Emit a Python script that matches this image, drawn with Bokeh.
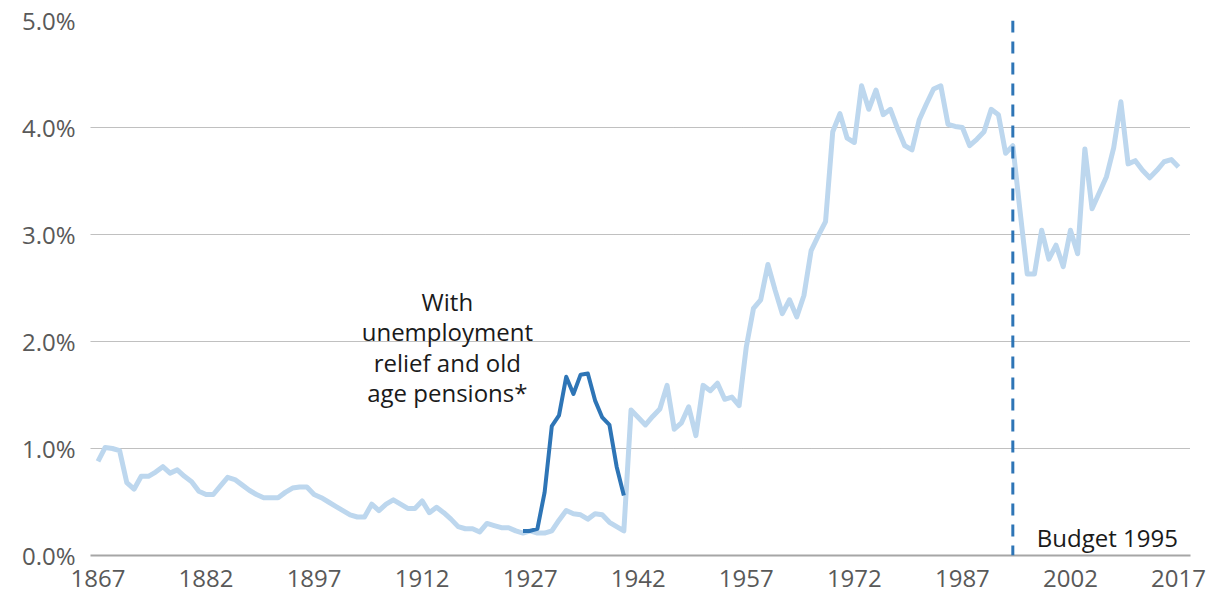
from bokeh.plotting import figure
from bokeh.models import Range1d, FixedTicker, PrintfTickFormatter, Label, Span
from bokeh.embed import file_html
from bokeh.resources import INLINE

# ---------------- data ----------------
years = list(range(1867, 2018))
spending = [
    0.88, 1.01, 1.00, 0.98, 0.68, 0.62, 0.74, 0.74, 0.78, 0.83,   # 1867-1876
    0.77, 0.80, 0.74, 0.69, 0.60, 0.57, 0.57, 0.65, 0.73, 0.71,   # 1877-1886
    0.66, 0.61, 0.57, 0.54, 0.54, 0.54, 0.59, 0.63, 0.64, 0.64,   # 1887-1896
    0.57, 0.54, 0.50, 0.46, 0.42, 0.38, 0.36, 0.36, 0.48, 0.42,   # 1897-1906
    0.48, 0.52, 0.48, 0.44, 0.44, 0.51, 0.40, 0.45, 0.40, 0.34,   # 1907-1916
    0.27, 0.25, 0.25, 0.22, 0.30, 0.28, 0.26, 0.26, 0.23, 0.21,   # 1917-1926
    0.23, 0.21, 0.21, 0.23, 0.33, 0.42, 0.39, 0.38, 0.34, 0.39,   # 1927-1936
    0.38, 0.31, 0.27, 0.23, 1.36, 1.29, 1.22, 1.30, 1.37, 1.59,   # 1937-1946
    1.18, 1.24, 1.39, 1.12, 1.59, 1.54, 1.61, 1.46, 1.48, 1.40,   # 1947-1956
    1.95, 2.31, 2.39, 2.72, 2.48, 2.26, 2.39, 2.23, 2.43, 2.85,   # 1957-1966
    2.99, 3.12, 3.96, 4.13, 3.90, 3.86, 4.39, 4.17, 4.35, 4.12,   # 1967-1976
    4.17, 3.99, 3.83, 3.79, 4.07, 4.22, 4.36, 4.39, 4.03, 4.01,   # 1977-1986
    4.00, 3.83, 3.89, 3.96, 4.17, 4.12, 3.76, 3.83, 3.22, 2.63,   # 1987-1996
    2.63, 3.04, 2.77, 2.90, 2.70, 3.04, 2.82, 3.80, 3.24, 3.39,   # 1997-2006
    3.54, 3.81, 4.24, 3.66, 3.69, 3.60, 3.53, 3.60, 3.68, 3.70,   # 2007-2016
    3.63,                                                         # 2017
]
relief_years = list(range(1926, 1941))
relief_spending = [0.23, 0.23, 0.25, 0.59, 1.21, 1.31, 1.67, 1.51,
                   1.69, 1.70, 1.45, 1.29, 1.22, 0.83, 0.56]
x_ticks = [1867, 1882, 1897, 1912, 1927, 1942, 1957, 1972, 1987, 2002, 2017]
y_ticks = [0, 1, 2, 3, 4, 5]
budget_year = 1994
budget_label = "Budget 1995"
note_text = "With\nunemployment\nrelief and old\nage pensions*"

# ---------------- styling ----------------
FONT = "Open Sans"
LIGHT = "#BDD7EE"
DARK = "#2E75B6"
AXIS_TXT = "#595959"

p = figure(width=1206, height=596, output_backend="svg", toolbar_location=None,
           x_range=Range1d(1865.959, 2018.666), y_range=Range1d(0, 5),
           min_border_left=90, min_border_right=16, min_border_top=20,
           min_border_bottom=41)
p.outline_line_color = None
p.background_fill_color = "white"
p.border_fill_color = "white"

p.xgrid.visible = False
p.ygrid.grid_line_color = "#808080"
p.ygrid.grid_line_dash = "1 1"
p.ygrid.grid_line_width = 1

p.yaxis.ticker = FixedTicker(ticks=y_ticks)
p.yaxis.formatter = PrintfTickFormatter(format="%.1f%%")
p.yaxis.axis_line_color = None
p.yaxis.major_tick_line_color = None
p.yaxis.minor_tick_line_color = None
p.yaxis.major_label_standoff = 9
p.yaxis.major_label_text_font = FONT
p.yaxis.major_label_text_font_size = "24px"
p.yaxis.major_label_text_color = AXIS_TXT

p.xaxis.ticker = FixedTicker(ticks=x_ticks)
p.xaxis.axis_line_color = "#a6a6a6"
p.xaxis.axis_line_width = 2
p.xaxis.major_tick_line_color = None
p.xaxis.minor_tick_line_color = None
p.xaxis.major_label_standoff = 8
p.xaxis.major_label_text_font = FONT
p.xaxis.major_label_text_font_size = "24px"
p.xaxis.major_label_text_color = AXIS_TXT

# ---------------- marks ----------------
p.line(years, spending, line_color=LIGHT, line_width=5, line_join="round")
p.line(relief_years, relief_spending, line_color=DARK, line_width=4, line_join="round")

p.add_layout(Span(location=budget_year, dimension="height", line_color=DARK,
                  line_width=3, line_dash="12 9"))

p.add_layout(Label(x=budget_year, y=0.17, x_offset=24, text=budget_label,
                   text_font=FONT, text_font_size="24px",
                   text_color="#1a1a1a", text_align="left",
                   text_baseline="alphabetic"))

p.add_layout(Label(x=1915.5, y=2.53, text=note_text,
                   text_font=FONT, text_font_size="24px",
                   text_color="#1a1a1a", text_align="center",
                   text_baseline="top", text_line_height=0.92))

open("out.html", "w").write(file_html(p, INLINE))
